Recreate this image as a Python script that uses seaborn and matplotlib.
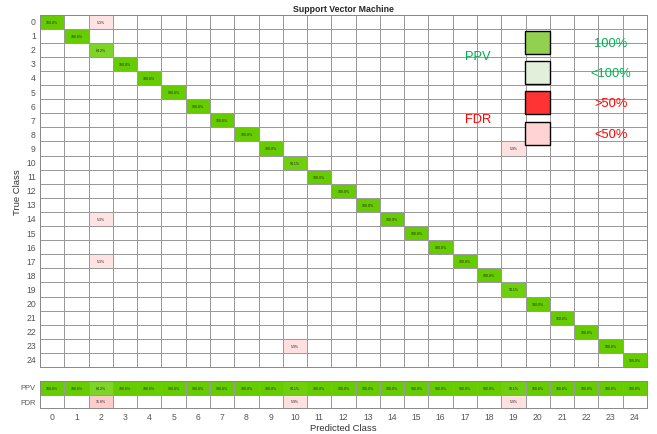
import numpy as np
import pandas as pd
import matplotlib
matplotlib.use("Agg")
import matplotlib.pyplot as plt
from matplotlib.colors import LinearSegmentedColormap, ListedColormap
from matplotlib.patches import Rectangle
import seaborn as sns

sns.set_theme(style="white")
plt.rcParams['font.family'] = ['Liberation Sans', 'DejaVu Sans']

# ---- data ----
classes = [str(i) for i in range(25)]
# diagonal (correct) percentages, column-normalised
diag_pct = [100.0, 100.0, 84.2, 100.0, 100.0, 100.0, 100.0, 100.0, 100.0, 100.0,
            94.1, 100.0, 100.0, 100.0, 100.0, 100.0, 100.0, 100.0, 100.0, 94.1,
            100.0, 100.0, 100.0, 100.0, 100.0]
# off-diagonal errors: true class, predicted class, percent
off_true = [0, 14, 17, 9, 23]
off_pred = [2, 2, 2, 19, 10]
off_pct = [5.3, 5.3, 5.3, 5.9, 5.9]
ppv = [100.0, 100.0, 84.2, 100.0, 100.0, 100.0, 100.0, 100.0, 100.0, 100.0,
       94.1, 100.0, 100.0, 100.0, 100.0, 100.0, 100.0, 100.0, 100.0, 94.1,
       100.0, 100.0, 100.0, 100.0, 100.0]
fdr = [0.0, 0.0, 15.8, 0.0, 0.0, 0.0, 0.0, 0.0, 0.0, 0.0,
       5.9, 0.0, 0.0, 0.0, 0.0, 0.0, 0.0, 0.0, 0.0, 5.9,
       0.0, 0.0, 0.0, 0.0, 0.0]
legend_labels = ["100%", "<100%", ">50%", "<50%"]
legend_colors = ["#92D050", "#E2EFDA", "#FF3333", "#FFD3D3"]
legend_text_colors = ["#00B050", "#00B050", "#FF0000", "#FF0000"]

n = len(classes)
mat = np.zeros((n, n))
for i, v in enumerate(diag_pct):
    mat[i, i] = v
for t, p, v in zip(off_true, off_pred, off_pct):
    mat[t, p] = v
df = pd.DataFrame(mat, index=classes, columns=classes)
annot = np.where(mat > 0, np.vectorize(lambda v: f"{v:.1f}%")(mat), "")

green = LinearSegmentedColormap.from_list("g", ["#FFFFFF", "#66CC00"])
red = LinearSegmentedColormap.from_list("r", ["#FFECEC", "#FF2020"])
white = ListedColormap(["#FFFFFF"])

W, H = 657, 435
fig = plt.figure(figsize=(W / 100, H / 100), dpi=100)
ax = fig.add_axes([40 / W, 1 - 368 / H, 607 / W, (368 - 15.5) / H])
ax2 = fig.add_axes([40 / W, 1 - 409.3 / H, 607 / W, (409.3 - 381.7) / H])

lw, lc = 0.7, "#9A9A9A"
tick_fs = 6.2
akw = dict(fontsize=2.5, color="#222222")
eye = np.eye(n, dtype=bool)
sns.heatmap(df, ax=ax, cmap=white, cbar=False, linewidths=lw, linecolor=lc)
sns.heatmap(df, ax=ax, cmap=green, vmin=0, vmax=100, mask=~eye, cbar=False,
            linewidths=lw, linecolor=lc, annot=annot, fmt="", annot_kws=akw)
sns.heatmap(df, ax=ax, cmap=red, vmin=0, vmax=100, mask=(eye | (mat == 0)), cbar=False,
            linewidths=lw, linecolor=lc, annot=annot, fmt="", annot_kws=akw)
ax.set_xticks([])
ax.set_xlabel("")
ax.set_yticks(np.arange(n) + 0.5)
ax.set_yticklabels(classes, rotation=0, fontsize=tick_fs, color="#555555")
ax.tick_params(axis="y", length=0, pad=3)
ax.set_ylabel("True Class", fontsize=6.8, color="#333333", labelpad=3)
ax.set_title("Support Vector Machine", fontsize=6.3, fontweight="bold", pad=2.5)
for s in ax.spines.values():
    s.set_visible(True)
    s.set_color("#888888")
    s.set_linewidth(0.7)

strip = pd.DataFrame([ppv, fdr], index=["PPV", "FDR"], columns=classes)
sannot = np.array([[f"{v:.1f}%" if v > 0 else "" for v in row] for row in [ppv, fdr]])
smask_top = np.array([[False] * n, [True] * n])
smask_bot = np.array([[True] * n, [v == 0 for v in fdr]])
sns.heatmap(strip, ax=ax2, cmap=white, cbar=False, linewidths=lw, linecolor=lc)
sns.heatmap(strip, ax=ax2, cmap=green, vmin=0, vmax=100, mask=smask_top, cbar=False,
            linewidths=lw, linecolor=lc, annot=sannot, fmt="", annot_kws=akw)
sns.heatmap(strip, ax=ax2, cmap=red, vmin=0, vmax=100, mask=smask_bot, cbar=False,
            linewidths=lw, linecolor=lc, annot=sannot, fmt="", annot_kws=akw)
ax2.set_yticks([0.5, 1.5])
ax2.set_yticklabels(["PPV", "FDR"], rotation=0, fontsize=5.4, color="#555555")
ax2.set_xticks(np.arange(n) + 0.5)
ax2.set_xticklabels(classes, rotation=0, fontsize=tick_fs, color="#555555")
ax2.tick_params(axis="both", length=0, pad=3)
ax2.set_xlabel("Predicted Class", fontsize=6.8, color="#333333", labelpad=1)
for s in ax2.spines.values():
    s.set_visible(True)
    s.set_color("#888888")
    s.set_linewidth(0.7)

# ---- legend overlay ----
box_tops = [31.7, 62, 92, 122.7]
for top, col, lab, tcol in zip(box_tops, legend_colors, legend_labels, legend_text_colors):
    fig.patches.append(Rectangle((525 / W, 1 - (top + 23) / H), 25 / W, 23 / H,
                                 transform=fig.transFigure, facecolor=col,
                                 edgecolor="black", linewidth=1.0, zorder=10))
    fig.text(611 / W, 1 - (top + 12) / H, lab, color=tcol, fontsize=9.3,
             ha="center", va="center", zorder=11)
fig.text(478 / W, 1 - 57 / H, "PPV", color="#00B050", fontsize=9.3, ha="center", va="center", zorder=11)
fig.text(478 / W, 1 - 120 / H, "FDR", color="#FF0000", fontsize=9.3, ha="center", va="center", zorder=11)

fig.savefig("out.png", dpi=100)
